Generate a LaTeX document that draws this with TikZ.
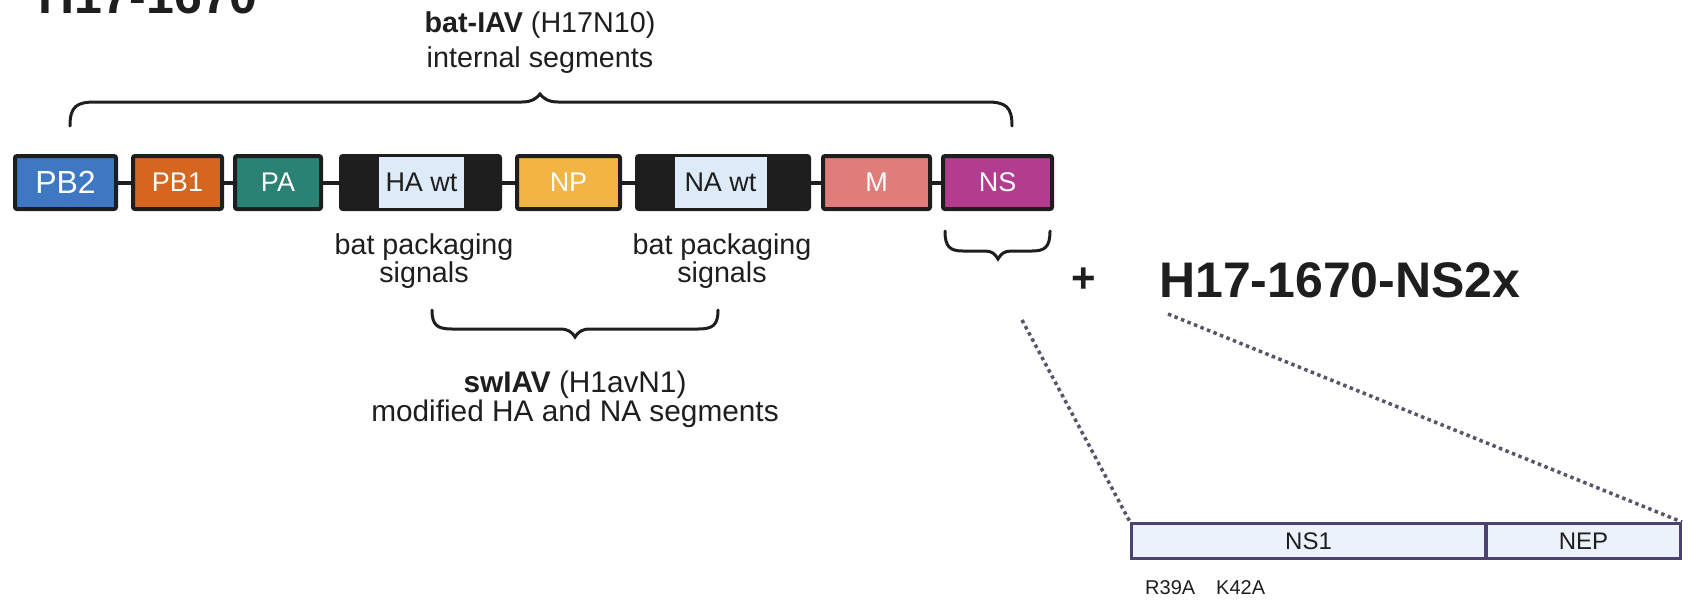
\documentclass[tikz,border=0pt]{standalone}
\usepackage{fontspec}
\setmainfont{Liberation Sans}
\definecolor{cpbtwo}{HTML}{3E78C3}
\definecolor{cpbone}{HTML}{D5661F}
\definecolor{cpa}{HTML}{2A8275}
\definecolor{cnp}{HTML}{F2B443}
\definecolor{cm}{HTML}{E07C7A}
\definecolor{cns}{HTML}{B33C8E}
\definecolor{clight}{HTML}{DDEBF8}
\definecolor{cdark}{HTML}{1E1E1E}
\definecolor{cnsbox}{HTML}{EBF2FB}
\definecolor{cnsline}{HTML}{4B4270}
\definecolor{cdot}{HTML}{56566A}
\definecolor{ctext}{HTML}{1E1E1E}
\tikzset{
  seg/.style={draw=cdark, line width=4pt, rounded corners=2pt, minimum height=53pt, inner sep=0pt, text=white, font=\fontsize{27}{30}\selectfont},
  inner/.style={fill=clight, minimum height=51pt, inner sep=0pt, text=ctext, font=\fontsize{27}{30}\selectfont},
  link/.style={draw=cdark, line width=4pt},
  brace/.style={draw=cdark, line width=3pt, line cap=round},
  lbl/.style={text=ctext, inner sep=0pt, font=\fontsize{28.7}{26}\selectfont, align=center},
  lbllow/.style={text=ctext, inner sep=0pt, font=\fontsize{29.8}{25}\selectfont, align=center},
  title/.style={text=ctext, inner sep=0pt, font=\fontsize{50}{50}\selectfont\bfseries},
  nsbox/.style={draw=cnsline, fill=cnsbox, line width=3pt, minimum height=35pt, inner sep=0pt, text=ctext, font=\fontsize{24}{25}\selectfont},
  dots/.style={draw=cdot, line width=3.5pt, dash pattern=on 3.5pt off 3.5pt},
  small/.style={text=ctext, inner sep=0pt, font=\fontsize{20}{20}\selectfont, anchor=base west}
}
\begin{document}
\begin{tikzpicture}[x=1pt, y=-1pt]
\useasboundingbox (0,0) rectangle (1688,600);

% titles
\node[title, anchor=base west] (t1) at (38,13) {H17-1670};
\node[title, anchor=base west] (t2) at (1159,297) {H17-1670-NS2x};
\node[title, font=\fontsize{42}{42}\selectfont\bfseries] (plus) at (1084,280) {+};

% segments
\node[seg, fill=cpbtwo, minimum width=101pt, font=\fontsize{32}{34}\selectfont] (pb2) at (65.5,182.5) {PB2};
\node[seg, fill=cpbone, minimum width=89pt] (pb1) at (177.5,182.5) {PB1};
\node[seg, fill=cpa, minimum width=86pt] (pa) at (278,182.5) {PA};
\node[seg, fill=cdark, minimum width=159pt] (ha) at (420.5,182.5) {};
\node[inner, minimum width=85pt] (hain) at (421.5,182.5) {HA wt};
\node[seg, fill=cnp, minimum width=103pt] (np) at (568.5,182.5) {NP};
\node[seg, fill=cdark, minimum width=172pt] (na) at (723,182.5) {};
\node[inner, minimum width=92pt] (nain) at (720.5,182.5) {NA wt};
\node[seg, fill=cm, minimum width=107pt] (m) at (876.5,182.5) {M};
\node[seg, fill=cns, minimum width=109pt] (ns) at (997.5,182.5) {NS};

\draw[link] (pb2.east) -- (pb1.west);
\draw[link] (pb1.east) -- (pa.west);
\draw[link] (pa.east) -- (ha.west);
\draw[link] (ha.east) -- (np.west);
\draw[link] (np.east) -- (na.west);
\draw[link] (na.east) -- (m.west);
\draw[link] (m.east) -- (ns.west);

% top brace
\draw[brace] (70,126) .. controls (70,107) and (76,102) .. (95,102) -- (522,102)
  .. controls (532,102) and (537,98) .. (540,94) .. controls (543,98) and (548,102) .. (558,102)
  -- (987,102) .. controls (1006,102) and (1012,107) .. (1012,126);
\node[lbl, anchor=base] (batiav) at (540,32) {\textbf{bat-IAV} (H17N10)};
\node[lbl, anchor=base] (internal) at (540,67) {internal segments};

% packaging labels
\node[lbl, anchor=base] (pk1) at (424,282) {bat packaging\\signals};
\node[lbl, anchor=base] (pk2) at (722,282) {bat packaging\\signals};

% lower brace
\draw[brace] (432,310) .. controls (432,325) and (437,329) .. (452,329) -- (560,329)
  .. controls (568,329) and (572,332) .. (575,337) .. controls (578,332) and (582,329) .. (590,329)
  -- (698,329) .. controls (713,329) and (718,325) .. (718,310);
\node[lbllow, anchor=base] (sw) at (575,392) {\textbf{swIAV} (H1avN1)};
\node[lbllow, anchor=base] (mod) at (575,421) {modified HA and NA segments};

% NS brace
\draw[brace] (945,231) .. controls (945,247) and (950,251) .. (963,251) -- (985,251)
  .. controls (992,251) and (995,254) .. (998,259) .. controls (1001,254) and (1004,251) .. (1011,251)
  -- (1032,251) .. controls (1045,251) and (1050,247) .. (1050,231);

% NS2x construct
\node[nsbox, minimum width=354pt] (ns1) at (1308.5,541) {NS1};
\node[nsbox, minimum width=194pt] (nep) at (1583.5,541) {NEP};
\coordinate (d1) at (1022,320);
\coordinate (d2) at (1168,314);
\draw[dots] (d1) -- (ns1.north west);
\draw[dots] (d2) -- (nep.north east);

\node[small] (r39) at (1145,594) {R39A};
\node[small] (k42) at (1216,594) {K42A};
\end{tikzpicture}
\end{document}
